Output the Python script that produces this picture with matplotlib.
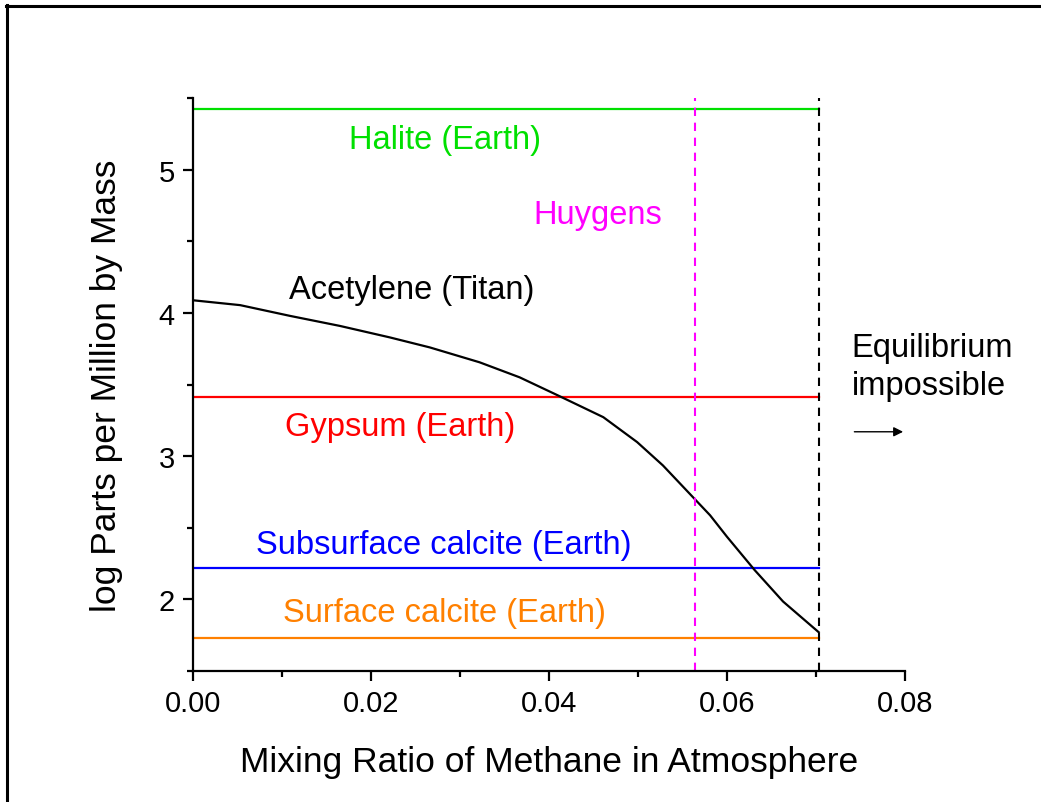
import matplotlib
matplotlib.use("Agg")
import matplotlib.pyplot as plt
from matplotlib.lines import Line2D
from matplotlib.ticker import MultipleLocator, FormatStrFormatter

plt.rcParams['font.family'] = ['Liberation Sans', 'DejaVu Sans']

# Acetylene (Titan) curve
acet_x = [0.0, 0.0053, 0.0109, 0.0165, 0.0221, 0.0266, 0.0322, 0.0367, 0.0412,
          0.0461, 0.0499, 0.0528, 0.0558, 0.0581, 0.0600, 0.0631, 0.0663, 0.0703]
acet_y = [4.088, 4.054, 3.979, 3.909, 3.829, 3.759, 3.655, 3.550, 3.418,
          3.272, 3.098, 2.935, 2.738, 2.587, 2.437, 2.205, 1.985, 1.771]

# Earth reference levels
levels_names = ["Halite (Earth)", "Gypsum (Earth)", "Subsurface calcite (Earth)", "Surface calcite (Earth)"]
levels_values = [5.42, 3.41, 2.216, 1.73]
levels_colors = ["#00e000", "#ff0000", "#0000ff", "#ff8000"]
levels_label_x = [0.0283, 0.0233, 0.0282, 0.0283]
levels_label_y = [5.21, 3.21, 2.38, 1.91]
level_end_x = 0.0703

huygens_x = 0.0564
limit_x = 0.0703

fig = plt.figure(figsize=(10.41, 8.03), dpi=100)
ax = fig.add_axes([193/1041, 1-672/803, (905-193)/1041, (672-99)/803])

# frame of the figure (top and left visible)
fig.add_artist(Line2D([6/1041, 1.01], [1-7/803, 1-7/803], transform=fig.transFigure, color='black', lw=2.2))
fig.add_artist(Line2D([7/1041, 7/1041], [1-6/803, -0.01], transform=fig.transFigure, color='black', lw=2.2))

for v, c in zip(levels_values, levels_colors):
    ax.plot([0, level_end_x], [v, v], color=c, lw=1.6)

ax.plot(acet_x, acet_y, color='black', lw=1.6)

ax.axvline(huygens_x, color='#ff00ff', lw=1.5, dashes=(4, 3.2))
ax.axvline(limit_x, color='black', lw=1.5, dashes=(4, 3.2))

fs = 23.5
for name, c, lx, ly in zip(levels_names, levels_colors, levels_label_x, levels_label_y):
    ax.text(lx, ly, name, color=c, fontsize=fs, ha='center', va='center')
ax.text(0.0455, 4.69, "Huygens", color='#ff00ff', fontsize=fs, ha='center', va='center')
ax.text(0.0246, 4.165, "Acetylene (Titan)", color='black', fontsize=fs, ha='center', va='center')
ax.text(0.0740, 3.625, "Equilibrium\nimpossible", color='black', fontsize=fs, ha='left', va='center',
        linespacing=1.32, clip_on=False)
ax.annotate("", xy=(0.0801, 3.17), xytext=(0.0740, 3.17),
            arrowprops=dict(arrowstyle='-|>', color='black', lw=1.0, mutation_scale=14),
            annotation_clip=False)

ax.set_xlim(0, 0.08)
ax.set_ylim(1.5, 5.5)
ax.xaxis.set_major_locator(MultipleLocator(0.02))
ax.xaxis.set_minor_locator(MultipleLocator(0.01))
ax.yaxis.set_major_locator(MultipleLocator(1))
ax.yaxis.set_minor_locator(MultipleLocator(0.5))
ax.xaxis.set_major_formatter(FormatStrFormatter('%.2f'))
ax.spines['top'].set_visible(False)
ax.spines['right'].set_visible(False)
for s in ['left', 'bottom']:
    ax.spines[s].set_linewidth(1.6)
ax.tick_params(which='major', direction='out', length=7, width=1.6, labelsize=21, pad=6)
ax.tick_params(which='minor', direction='out', length=4, width=1.6)

ax.set_xlabel("Mixing Ratio of Methane in Atmosphere", fontsize=25.5, labelpad=20)
ax.set_ylabel("log Parts per Million by Mass", fontsize=25.5, labelpad=26)

fig.savefig("out.png", dpi=100)
